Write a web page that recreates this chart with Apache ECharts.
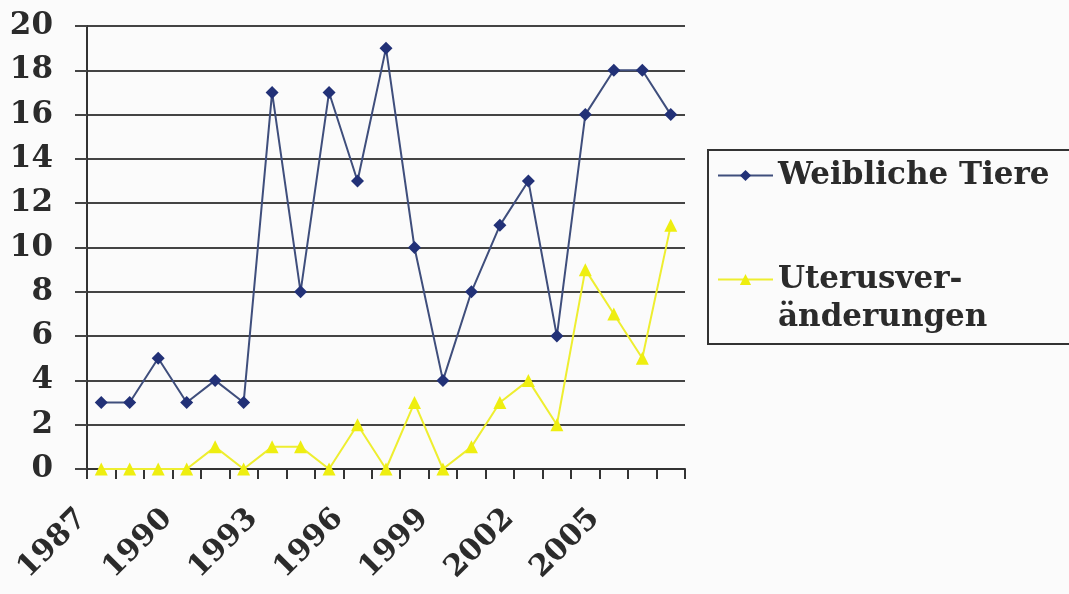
<!DOCTYPE html>
<html>
<head>
<meta charset="utf-8">
<script src="https://cdn.jsdelivr.net/npm/echarts@6/dist/echarts.min.js"></script>
<style>
html,body{margin:0;padding:0;background:#fbfbfb;}
#chart{width:1069px;height:594px;}
</style>
</head>
<body>
<div id="chart"></div>
<script>
var years = ['1987','1988','1989','1990','1991','1992','1993','1994','1995','1996','1997','1998','1999','2000','2001','2002','2003','2004','2005','2006','2007'];
var weiblicheTiere = [3,3,5,3,4,3,17,8,17,13,19,10,4,8,11,13,6,16,18,18,16];
var uterusveraenderungen = [0,0,0,0,1,0,1,1,0,2,0,3,0,1,3,4,2,9,7,5,11];
var nameA = 'Weibliche Tiere';
var nameB = 'Uterusveränderungen';

var FONT = 'DejaVu Serif';
var TXT = '#2b2b2b';
var chart = echarts.init(document.getElementById('chart'), null, {renderer:'canvas'});
chart.setOption({
  backgroundColor: '#fbfbfb',
  animation: false,
  grid: {left: 87, right: 384, top: 26, bottom: 125, containLabel: false},
  legend: {
    orient: 'vertical',
    left: 708,
    top: 150,
    padding: [10, 60, 11, 9],
    itemGap: 35,
    itemWidth: 55,
    itemHeight: 14,
    borderColor: '#333',
    borderWidth: 2,
    data: [nameA, nameB],
    formatter: function (n) {
      if (n === nameB) return '{e| }\n{a|Uterusver-}\n{a|änderungen}';
      return '{a|' + n + '}';
    },
    textStyle: {
      rich: {
        a: {fontFamily: FONT, fontSize: 31, fontWeight: 'bold', color: TXT, lineHeight: 38},
        e: {fontFamily: FONT, fontSize: 31, lineHeight: 38}
      }
    }
  },
  xAxis: {
    type: 'category',
    data: years,
    boundaryGap: true,
    axisLine: {show: true, lineStyle: {color: '#333', width: 2}},
    axisTick: {show: true, interval: 0, length: 10, lineStyle: {color: '#333', width: 2}},
    axisLabel: {
      interval: 2,
      rotate: 45,
      margin: 26,
      padding: [0, 27, 0, 0],
      fontFamily: FONT, fontSize: 30, fontWeight: 'bold', color: TXT
    },
    splitLine: {show: false}
  },
  yAxis: {
    type: 'value',
    min: 0, max: 20, interval: 2,
    axisLine: {show: true, lineStyle: {color: '#333', width: 2}},
    axisTick: {show: true, length: 12, lineStyle: {color: '#444', width: 2}},
    axisLabel: {margin: 34, fontFamily: FONT, fontSize: 31, fontWeight: 'bold', color: TXT},
    splitLine: {show: true, lineStyle: {color: '#444', width: 2}}
  },
  series: [
    {
      name: nameA, type: 'line', data: weiblicheTiere,
      symbol: 'diamond', symbolSize: 13, showSymbol: true,
      lineStyle: {color: '#3f4e7c', width: 2},
      itemStyle: {color: '#223177'},
      z: 3
    },
    {
      name: nameB, type: 'line', data: uterusveraenderungen,
      symbol: 'triangle', symbolSize: 13, showSymbol: true,
      lineStyle: {color: '#eeee30', width: 2},
      itemStyle: {color: '#eeee10'},
      z: 4
    }
  ]
});
</script>
</body>
</html>
